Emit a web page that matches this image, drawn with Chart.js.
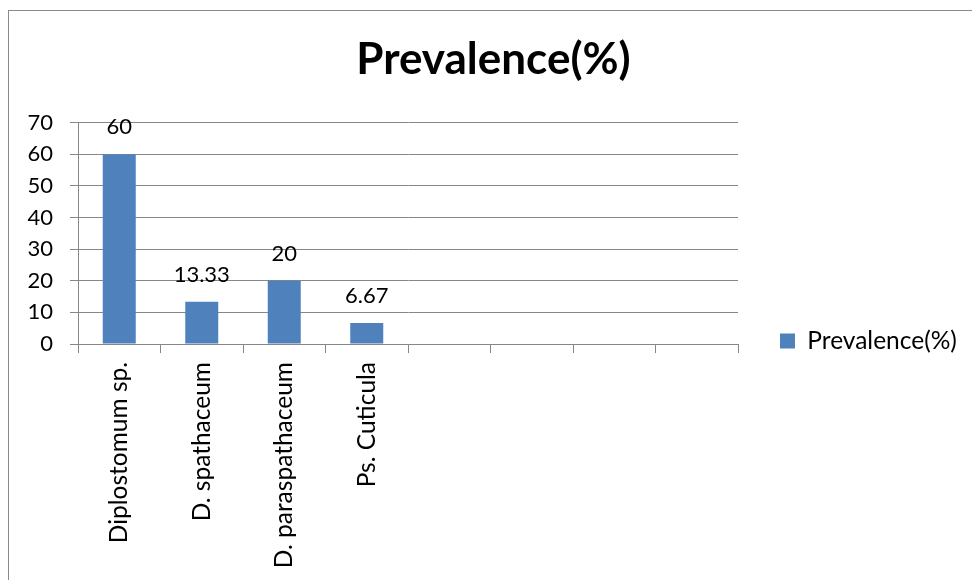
<!DOCTYPE html>
<html>
<head>
<meta charset="utf-8">
<title>Prevalence(%)</title>
<script src="https://cdn.jsdelivr.net/npm/chart.js@4.4.1/dist/chart.umd.min.js"></script>
<style>
  html, body { margin: 0; padding: 0; background: #fff; overflow: hidden; }
  #wrap { position: relative; width: 972px; height: 580px; overflow: hidden; }
  #frame { position: absolute; left: 8px; top: 10px; width: 1200px; height: 800px;
           border: 1px solid #8a8a8a; box-sizing: border-box; }
  #c { position: absolute; left: 0; top: 0; }
</style>
</head>
<body>
<div id="wrap">
  <div id="frame"></div>
  <canvas id="c" width="972" height="580"></canvas>
</div>
<script>
// Parasite species (four trailing empty slots keep the axis eight categories wide)
const categories = ['Diplostomum sp.', 'D. spathaceum', 'D. paraspathaceum', 'Ps. Cuticula', '', '', '', ''];
// Prevalence per species, in percent
const prevalence = [60, 13.33, 20, 6.67, null, null, null, null];
// Value axis range and step
const yMin = 0;
const yMax = 70;
const yStep = 10;

const seriesName = 'Prevalence(%)';
const chartTitle = 'Prevalence(%)';

const FONT = 'Lato, "Open Sans", sans-serif';
const NUM_SIZE = 22;   // numbers: axis ticks and value labels
const TEXT_SIZE = 24.5; // words: category names and legend
const GRID = '#878787';
const BAR = '#4F81BD';

Chart.defaults.color = '#000';
Chart.defaults.font.family = FONT;

// Size the legend column so the plot area ends where the axis should end
const canvas = document.getElementById('c');
const mctx = canvas.getContext('2d');
mctx.font = TEXT_SIZE + 'px ' + FONT;
const legendTextW = mctx.measureText(seriesName).width;
const LEGEND_PAD = 42;
const BOX = 15;
const PLOT_RIGHT = 738;
const padRight = 972 - PLOT_RIGHT - (LEGEND_PAD + BOX + TEXT_SIZE / 2 + legendTextW + 10);

// Numbers written above each bar
const valueLabels = {
  id: 'valueLabels',
  afterDatasetsDraw(chart) {
    const { ctx } = chart;
    const meta = chart.getDatasetMeta(0);
    ctx.save();
    ctx.font = NUM_SIZE + 'px ' + FONT;
    ctx.fillStyle = '#000';
    ctx.textAlign = 'center';
    ctx.textBaseline = 'middle';
    meta.data.forEach((bar, i) => {
      const v = prevalence[i];
      if (v === null || v === undefined) return;
      ctx.fillText(String(v), bar.x, bar.y - 27);
    });
    ctx.restore();
  }
};

// Keep the legend entry level with the lower part of the plot
const legendPlacement = {
  id: 'legendPlacement',
  afterLayout(chart) {
    const lg = chart.legend;
    if (!lg) return;
    const h = lg.bottom - lg.top;
    lg.top = 341 - h / 2;
    lg.bottom = lg.top + h;
  }
};

new Chart(canvas, {
  type: 'bar',
  data: {
    labels: categories,
    datasets: [{
      label: seriesName,
      data: prevalence,
      backgroundColor: BAR,
      borderWidth: 0,
      barPercentage: 0.4,
      categoryPercentage: 1.0
    }]
  },
  options: {
    responsive: false,
    animation: false,
    layout: { padding: { left: 20, right: padRight, top: 0, bottom: 0 } },
    plugins: {
      title: {
        display: true,
        text: chartTitle,
        color: '#000',
        font: { family: FONT, size: 44, weight: 'bold' },
        padding: { top: 33, bottom: 36.7 }
      },
      legend: {
        position: 'right',
        labels: {
          boxWidth: BOX,
          boxHeight: BOX,
          padding: LEGEND_PAD,
          color: '#000',
          font: { family: FONT, size: TEXT_SIZE }
        }
      },
      tooltip: { enabled: false }
    },
    scales: {
      x: {
        grid: { offset: true, drawOnChartArea: false, drawTicks: true, tickLength: 9, color: GRID },
        border: { display: true, color: GRID },
        ticks: {
          autoSkip: false, minRotation: 90, maxRotation: 90, padding: 9,
          color: '#000', font: { family: FONT, size: TEXT_SIZE }
        },
        afterFit(s) { s.height = 236; }
      },
      y: {
        min: yMin,
        max: yMax,
        grid: { color: GRID, tickLength: 8 },
        border: { display: true, color: GRID },
        ticks: { stepSize: yStep, padding: 17, color: '#000', font: { family: FONT, size: NUM_SIZE } },
        afterFit(s) { s.width = 58; }
      }
    }
  },
  plugins: [valueLabels, legendPlacement]
});
</script>
</body>
</html>
